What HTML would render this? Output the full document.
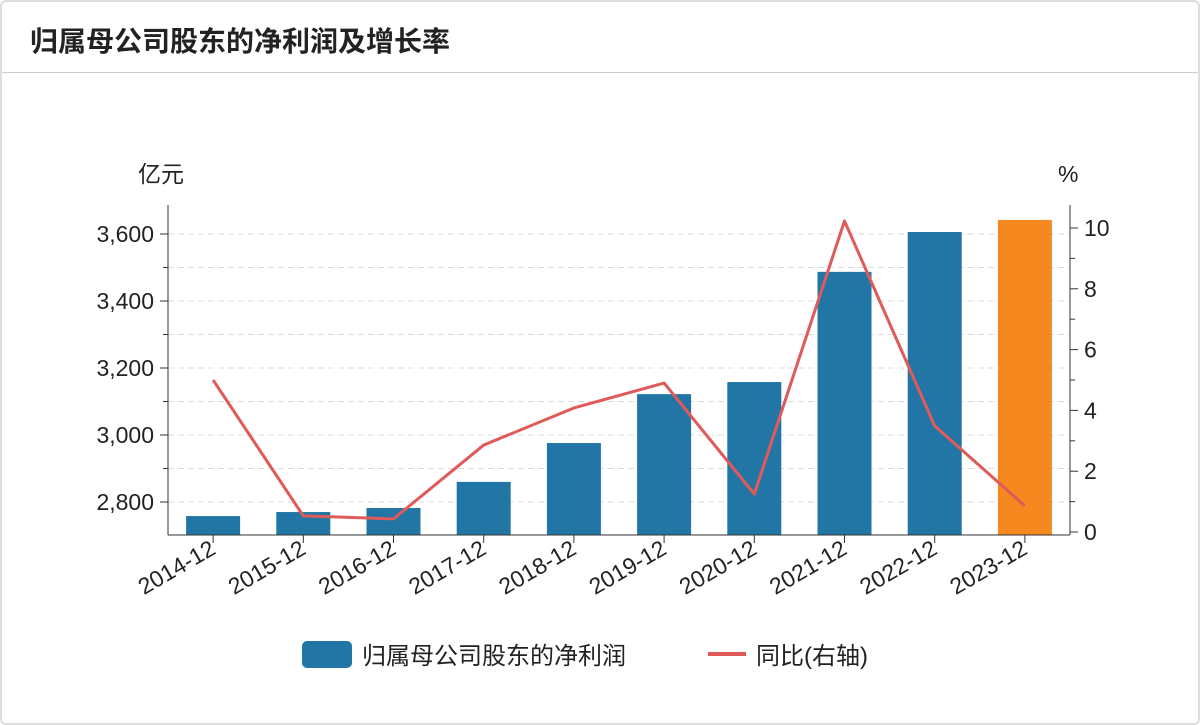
<!DOCTYPE html>
<html><head><meta charset="utf-8"><style>
body{margin:0;background:#fff;font-family:"Liberation Sans","Noto Sans CJK SC",sans-serif;}
.card{position:absolute;left:0;top:0;width:1196px;height:721px;border:2px solid #ddd;border-radius:6px;background:#fff;}
.title{position:absolute;left:28px;top:18px;font-size:28px;font-weight:bold;color:#222;}
.hr{position:absolute;left:0;top:70px;width:1196px;height:1px;background:#ccc;}
</style></head><body>
<div class="card">
<div class="title">归属母公司股东的净利润及增长率</div>
<div class="hr"></div>
</div>
<svg id="c" width="1200" height="725" style="position:absolute;left:0;top:0"></svg>
<script>
const categories=["2014-12","2015-12","2016-12","2017-12","2018-12","2019-12","2020-12","2021-12","2022-12","2023-12"];
const profit=[2758,2770,2782,2860,2976,3122,3158,3487,3606,3642];
const growth=[5.0,0.53,0.43,2.86,4.08,4.9,1.25,10.23,3.49,0.86];
const leftTicks=[2800,3000,3200,3400,3600];
const rightTicks=[0,2,4,6,8,10];
const NS="http://www.w3.org/2000/svg",svg=document.getElementById('c');
function el(t,a,txt){const e=document.createElementNS(NS,t);for(const k in a)e.setAttribute(k,a[k]);if(txt!=null)e.textContent=txt;svg.appendChild(e);return e;}
const X0=168,X1=1070,Y0=535,Y1=205;
const yL=v=>502-(v-2800)*0.335;
const yR=v=>532-v*30.4;
const band=(X1-X0)/categories.length;
const xC=i=>X0+band*(i+0.5);
for(let v=2700;v<=3700;v+=100){const y=yL(v);if(y<Y1||y>Y0-2)continue;
let g=el('line',{x1:X0,x2:X1,y1:y,y2:y,stroke:'#ddd','stroke-dasharray':'6,4'});
let t=el('line',{x1:X0-5,x2:X0,y1:y,y2:y,stroke:'#333'});}
profit.forEach((v,i)=>{const y=yL(v);const b=el('rect',{x:xC(i)-27,y:y,width:54,height:Y0-y,fill:i==profit.length-1?'#f5891f':'#2176a5'});
});
const pts=growth.map((v,i)=>xC(i)+','+yR(v)).join(' ');
const pl=el('polyline',{points:pts,fill:'none',stroke:'#e05a5a','stroke-width':3,'stroke-linejoin':'round'});

let a=el('line',{x1:X0,x2:X0,y1:Y1,y2:Y0,stroke:'#333'});
a=el('line',{x1:X1,x2:X1,y1:Y1,y2:Y0,stroke:'#333'});
a=el('line',{x1:X0,x2:X1,y1:Y0,y2:Y0,stroke:'#333'});
leftTicks.forEach(v=>{const y=yL(v);el('line',{x1:X0-8,x2:X0,y1:y,y2:y,stroke:'#333'});
const t=el('text',{x:X0-14,y:y+8,'text-anchor':'end','font-size':23,fill:'#222'},v.toLocaleString('en-US'));});
rightTicks.forEach(v=>{const y=yR(v);el('line',{x1:X1,x2:X1+8,y1:y,y2:y,stroke:'#333'});
if(v<10)el('line',{x1:X1,x2:X1+5,y1:yR(v+1),y2:yR(v+1),stroke:'#333'});
const t=el('text',{x:X1+14,y:y+8,'font-size':23,fill:'#222'},v);});
categories.forEach((c,i)=>{const x=xC(i);el('line',{x1:x,x2:x,y1:Y0,y2:Y0+8,stroke:'#333'});
const t=el('text',{x:x+4,y:Y0+18,'text-anchor':'end','font-size':23,fill:'#222',transform:`rotate(-30 ${x+4} ${Y0+18})`},c);});
let t=el('text',{x:138,y:182,'font-size':23,fill:'#222'},'亿元');
t=el('text',{x:1058,y:182,'font-size':23,fill:'#222'},'%');
let r=el('rect',{x:302,y:641,width:50,height:27,rx:5,fill:'#2176a5'});
t=el('text',{x:362,y:664,'font-size':24,fill:'#222'},'归属母公司股东的净利润');
r=el('line',{x1:708,x2:746,y1:654,y2:654,stroke:'#e05a5a','stroke-width':4});
t=el('text',{x:756,y:664,'font-size':24,fill:'#222'},'同比(右轴)');
</script>
</body></html>
